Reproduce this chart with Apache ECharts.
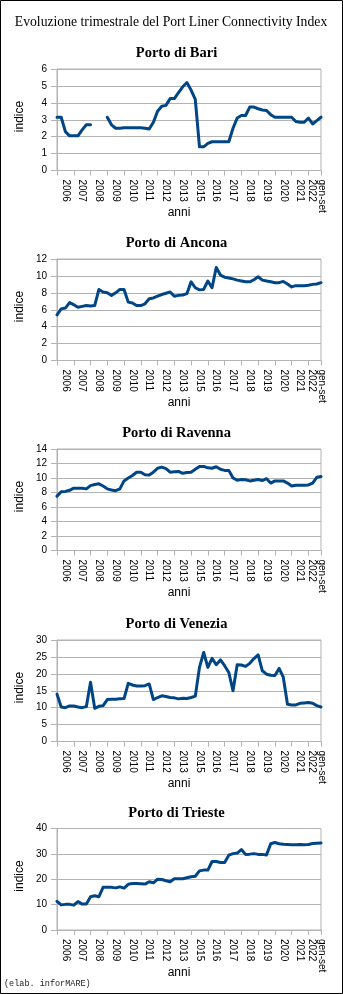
<!DOCTYPE html>
<html><head><meta charset="utf-8">
<script src="https://cdn.jsdelivr.net/npm/echarts@6/dist/echarts.min.js"></script>
<style>html,body{margin:0;padding:0;background:#fff}#c{width:343px;height:994px}</style>
</head><body><div id="c"></div>
<script>
// ---- data ----
const years = ['2006','2007','2008','2009','2010','2011','2012','2013','2015','2016','2017','2018','2019','2020','2021'];
const quarters = ['I','II','III','IV'];
const lastPeriod = ['2022 I','2022 II','2022 III','gen-set 2022'];
const tickLabels = ['2006','2007','2008','2009','2010','2011','2012','2013','2015','2016','2017','2018','2019','2020','2021','gen-set\n2022'];
const mainTitle = 'Evoluzione trimestrale del Port Liner Connectivity Index';
const portTitles = ['Porto di Bari','Porto di Ancona','Porto di Ravenna','Porto di Venezia','Porto di Trieste'];
const yName = 'indice';
const xName = 'anni';
const footer = '(elab. inforMARE)';

const bari = [3.15,3.15,2.3,2.05,2.05,2.05,2.4,2.7,2.7,null,
  null,null,3.15,2.7,2.5,2.5,2.52,2.52,2.52,2.52,
  2.52,2.5,2.45,2.85,3.5,3.8,3.85,4.25,4.25,4.6,
  4.95,5.2,4.75,4.2,1.4,1.4,1.6,1.7,1.7,1.7,
  1.7,1.7,2.5,3.1,3.25,3.25,3.75,3.75,3.65,3.58,
  3.55,3.3,3.15,3.15,3.15,3.15,3.15,2.9,2.85,2.85,
  3.1,2.75,2.95,3.15];
const ancona = [5.4,6.1,6.2,6.85,6.6,6.3,6.4,6.5,6.45,6.5,
  8.4,8.1,8.0,7.7,8.0,8.4,8.4,6.9,6.8,6.5,
  6.5,6.7,7.3,7.4,7.6,7.8,7.95,8.1,7.6,7.7,
  7.75,7.9,9.3,8.6,8.35,8.4,9.4,8.6,11.0,10.1,
  9.85,9.75,9.65,9.5,9.4,9.3,9.3,9.55,9.9,9.5,
  9.4,9.3,9.2,9.2,9.35,9.05,8.7,8.85,8.85,8.85,
  8.9,9.0,9.05,9.2];
const ravenna = [7.5,8.1,8.15,8.3,8.6,8.6,8.6,8.5,8.95,9.1,
  9.2,8.9,8.5,8.35,8.25,8.5,9.6,10.0,10.35,10.8,
  10.8,10.45,10.4,10.8,11.35,11.5,11.3,10.8,10.85,10.9,
  10.65,10.75,10.8,11.2,11.6,11.6,11.4,11.35,11.55,11.2,
  11.05,11.05,10.0,9.7,9.8,9.75,9.6,9.7,9.8,9.65,
  9.9,9.3,9.6,9.6,9.6,9.3,8.9,9.0,9.0,9.0,
  9.05,9.3,10.1,10.2];
const venezia = [14.0,10.2,10.0,10.5,10.5,10.2,10.0,10.3,17.5,9.8,
  10.4,10.6,12.4,12.5,12.5,12.6,12.7,17.2,16.7,16.4,
  16.4,16.5,17.0,12.4,13.0,13.5,13.3,13.0,12.9,12.6,
  12.8,12.7,13.0,13.4,21.9,26.3,21.9,24.6,22.7,24.1,
  22.4,20.4,15.0,22.7,22.6,22.2,23.1,24.5,25.6,20.9,
  19.9,19.6,19.5,21.6,19.0,11.0,10.8,10.8,11.3,11.4,
  11.5,11.3,10.6,10.2];
const trieste = [11.3,9.9,10.1,10.1,9.8,11.2,10.2,10.2,13.1,13.5,
  13.1,16.8,16.8,16.8,16.6,17.0,16.5,18.0,18.3,18.3,
  18.2,18.1,19.0,18.6,20.0,19.9,19.4,19.0,20.2,20.2,
  20.2,20.6,21.0,21.2,23.3,23.6,23.6,27.0,27.0,26.6,
  26.6,29.5,30.1,30.3,31.7,29.8,29.9,30.1,29.8,29.8,
  29.6,34.0,34.5,34.0,33.8,33.7,33.6,33.6,33.7,33.6,
  33.7,34.1,34.2,34.3];
const yMax = [6,12,14,30,40];
const yStep = [1,2,2,5,10];

// ---- build ----
const categories = [];
years.forEach(y => quarters.forEach(q => categories.push(y + ' ' + q)));
lastPeriod.forEach(p => categories.push(p));
const labelAt = {};
tickLabels.forEach((t, k) => { labelAt[k < years.length ? 4 * k + 2 : categories.length - 2] = t; });

const seriesData = [bari, ancona, ravenna, venezia, trieste];
const gridTops = [69, 259, 449, 640, 828.5];
const GL = 57, GW = 264, GH = 101.5;
const SANS = '"Liberation Sans", Arial, sans-serif';
const SERIF = '"Liberation Serif", "Times New Roman", serif';
const AX = '#b3b3b3';

const grid = [], xAxis = [], yAxis = [], series = [];
const graphic = [
  { type: 'rect', shape: { x: 0.5, y: 0.5, width: 342, height: 993 }, style: { fill: 'none', stroke: '#000', lineWidth: 1 }, z: 100 },
  { type: 'text', x: 171, y: 22, style: { text: mainTitle, fontSize: 13.7, fontFamily: SERIF, fill: '#000', align: 'center', verticalAlign: 'middle' } },
  { type: 'text', x: 4, y: 984, style: { text: footer, fontSize: 8.5, fontFamily: '"Courier New", "Liberation Mono", monospace', fill: '#222', align: 'left', verticalAlign: 'middle' } }
];
seriesData.forEach((d, i) => {
  const top = gridTops[i];
  grid.push({ left: GL, top: top, width: GW, height: GH, show: true, borderColor: AX, borderWidth: 1, backgroundColor: 'transparent' });
  xAxis.push({
    type: 'category', gridIndex: i, data: categories, boundaryGap: false,
    axisLine: { lineStyle: { color: AX, width: 1 } },
    axisTick: { show: true, length: 5, interval: (idx) => idx % 4 === 0 || idx === categories.length - 1, lineStyle: { color: AX } },
    axisLabel: { interval: (idx) => labelAt[idx] !== undefined, formatter: (v, idx) => labelAt[idx] || '', rotate: -90, fontSize: 10, lineHeight: 10, color: '#000', margin: 9, fontFamily: SANS },
    splitLine: { show: false }
  });
  yAxis.push({
    type: 'value', gridIndex: i, min: 0, max: yMax[i], interval: yStep[i],
    axisLine: { show: true, lineStyle: { color: AX, width: 1 } },
    axisTick: { show: true, length: 6, lineStyle: { color: AX } },
    axisLabel: { fontSize: 10, color: '#000', margin: 10, fontFamily: SANS },
    splitLine: { show: true, lineStyle: { color: AX, width: 1 } }
  });
  series.push({
    type: 'line', xAxisIndex: i, yAxisIndex: i, data: d, symbol: 'none', showSymbol: false,
    connectNulls: false, lineStyle: { color: '#004586', width: 3, cap: 'round', join: 'round' }
  });
  graphic.push({ type: 'text', x: 176.5, y: top - 15.7, style: { text: portTitles[i], fontSize: 14.5, fontWeight: 'bold', fontFamily: SERIF, fill: '#000', align: 'center', verticalAlign: 'middle' } });
  graphic.push({ type: 'text', x: 20, y: top + 47.5, rotation: Math.PI / 2, style: { text: yName, fontSize: 12, fontFamily: SANS, fill: '#000', align: 'center', verticalAlign: 'middle' } });
  graphic.push({ type: 'text', x: 179, y: top + 144, style: { text: xName, fontSize: 12, fontFamily: SANS, fill: '#000', align: 'center', verticalAlign: 'middle' } });
});

const chart = echarts.init(document.getElementById('c'), null, { renderer: 'canvas' });
chart.setOption({
  animation: false,
  backgroundColor: '#fff',
  grid, xAxis, yAxis, series, graphic
});
</script></body></html>
